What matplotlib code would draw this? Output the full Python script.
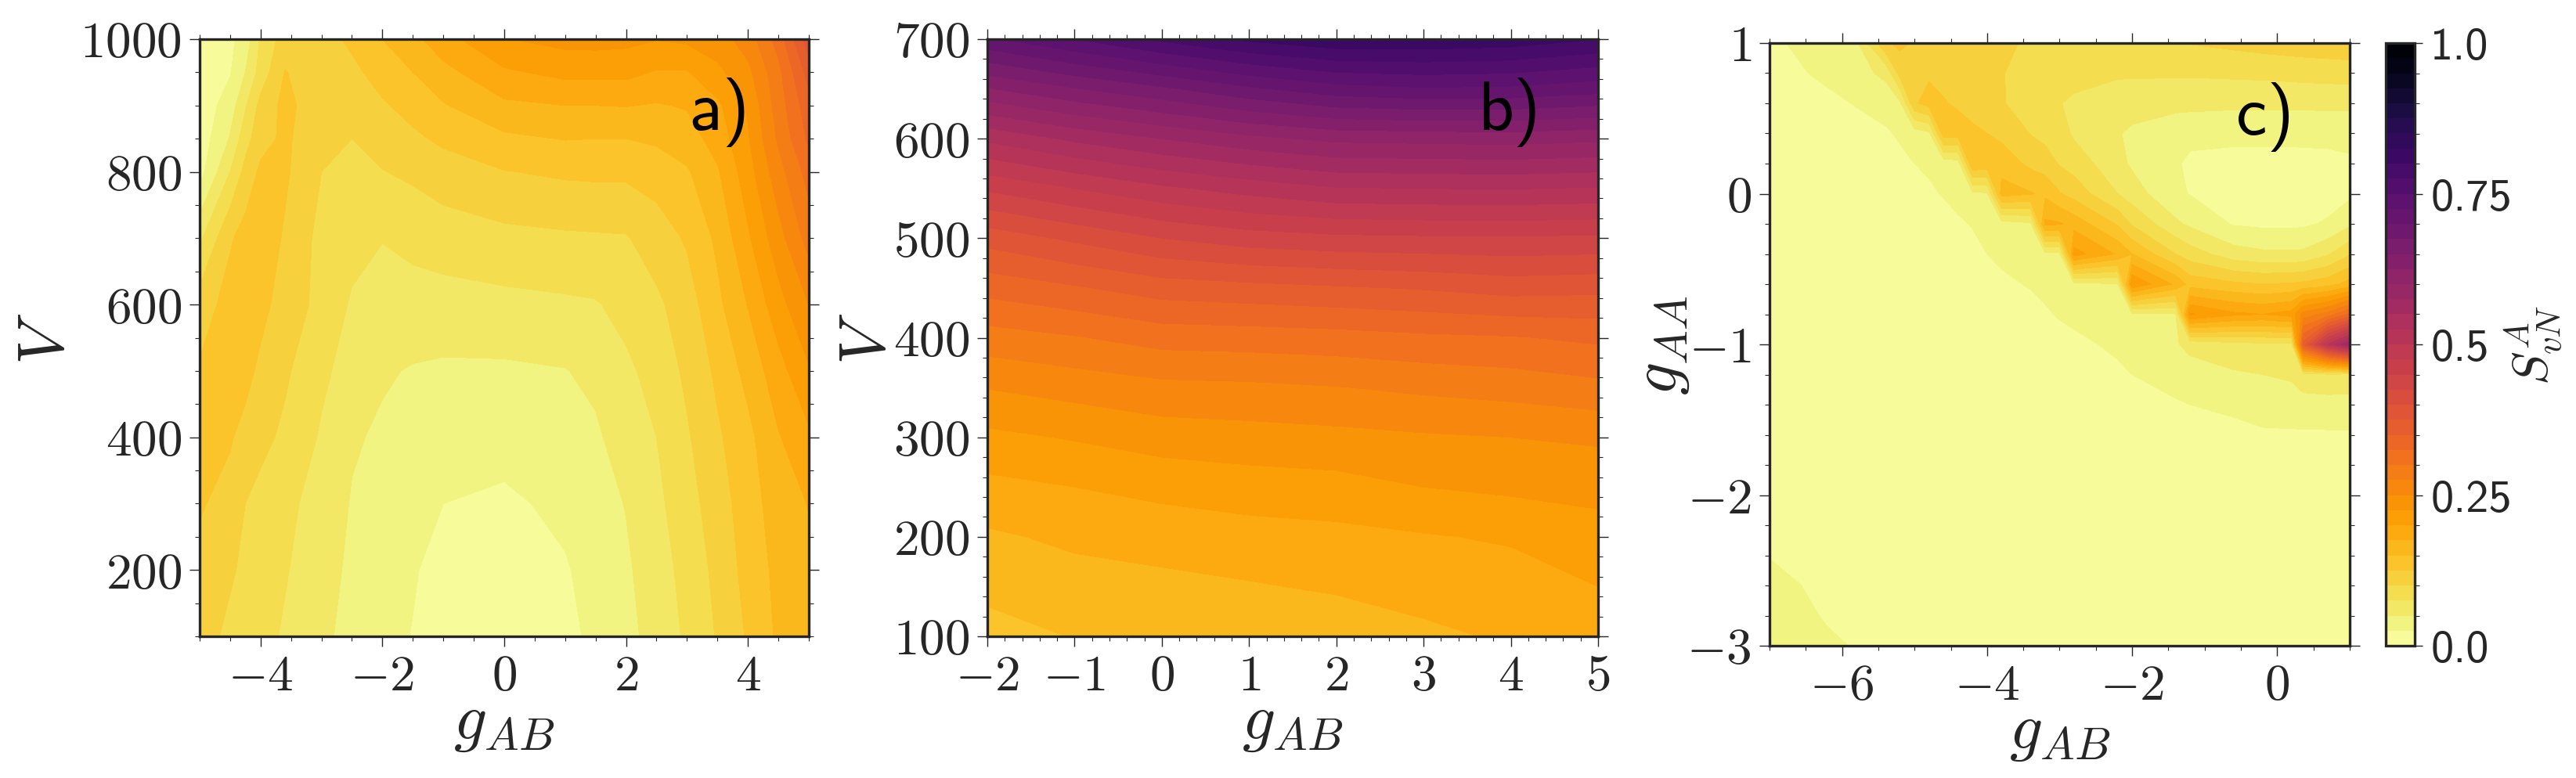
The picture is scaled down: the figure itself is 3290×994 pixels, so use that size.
"""Three contour maps of the entanglement entropy S_vN^A with a shared colorbar."""
import matplotlib

matplotlib.use("Agg")
import matplotlib.pyplot as plt
import numpy as np
from matplotlib.ticker import AutoMinorLocator, MultipleLocator

plt.rcParams["font.family"] = "cmr10"
plt.rcParams["mathtext.fontset"] = "cm"
plt.rcParams["axes.formatter.use_mathtext"] = True

INK = "#262626"
W, H = 3291, 995

# Panel a): g_AB against V
a_g = [-5, -4.5, -4.25, -4, -3.6, -3, -2.5, -2, -1.5, -1, 0, 1, 1.5, 2, 2.5, 3, 3.5, 4, 4.5, 5]
a_v = [1000, 950, 900, 850, 800, 700, 600, 500, 400, 300, 200, 100]
a_z = [
    [.008, .02, .035, .078, .112, .115, .13, .15, .168, .19, .224, .233, .234, .232, .226, .23, .238, .262, .31, .39],
    [.008, .023, .05, .085, .126, .113, .119, .135, .15, .167, .196, .207, .207, .207, .198, .198, .219, .243, .293, .36],
    [.009, .037, .072, .108, .132, .11, .11, .122, .134, .148, .17, .175, .175, .176, .173, .177, .195, .228, .287, .34],
    [.01, .052, .09, .116, .13, .105, .1, .11, .12, .13, .145, .151, .15, .15, .154, .164, .185, .222, .279, .33],
    [.015, .075, .108, .13, .129, .1, .095, .099, .105, .113, .124, .129, .13, .13, .136, .147, .172, .214, .265, .31],
    [.07, .122, .135, .14, .122, .092, .083, .076, .081, .087, .093, .096, .097, .098, .112, .128, .155, .196, .24, .285],
    [.112, .135, .138, .132, .115, .092, .072, .063, .066, .065, .068, .071, .073, .083, .095, .113, .144, .176, .215, .25],
    [.128, .137, .132, .12, .104, .08, .065, .053, .048, .046, .046, .049, .056, .07, .084, .105, .13, .158, .19, .222],
    [.135, .127, .118, .107, .095, .072, .053, .046, .04, .034, .033, .038, .046, .062, .075, .097, .121, .143, .173, .195],
    [.127, .118, .1, .092, .08, .067, .048, .04, .031, .025, .021, .03, .04, .051, .069, .09, .113, .138, .163, .176],
    [.119, .104, .094, .087, .077, .06, .045, .036, .027, .017, .014, .023, .033, .046, .064, .083, .107, .134, .157, .17],
    [.113, .093, .088, .083, .072, .054, .044, .033, .024, .014, .012, .019, .03, .043, .059, .079, .102, .128, .154, .165],
]

# Panel b): g_AB against V at a different scale
b_g = [-2, -1, 0, 1, 2, 3, 4, 5]
b_v = [100, 150, 200, 250, 300, 350, 400, 450, 500, 550, 600, 650, 700]
b_z = [
    [.141, .151, .155, .158, .16, .17, .178, .185],
    [.156, .165, .168, .173, .178, .184, .188, .2],
    [.171, .18, .186, .19, .193, .198, .203, .215],
    [.193, .2, .207, .213, .216, .225, .23, .233],
    [.219, .227, .237, .24, .243, .247, .25, .254],
    [.251, .26, .268, .27, .274, .28, .285, .293],
    [.289, .298, .31, .312, .315, .32, .323, .33],
    [.334, .347, .362, .367, .372, .377, .385, .382],
    [.385, .405, .425, .438, .444, .446, .447, .445],
    [.454, .475, .495, .51, .523, .525, .526, .523],
    [.53, .555, .575, .593, .606, .608, .61, .605],
    [.623, .648, .67, .695, .715, .722, .72, .71],
    [.72, .75, .78, .805, .82, .82, .815, .8],
]

# Panel c): g_AB against g_AA
c_g = [-7, -6.6, -6.2, -5.8, -5.4, -5.2, -5, -4.8, -4.6, -4.4, -4.2, -4, -3.8, -3.4,
       -3.2, -3, -2.8, -2.2, -2, -1.4, -1.2, -.6, -.2, .2, .36, .7, 1]
c_aa = [1, .8, .6, .4, .2, 0, -.2, -.4, -.6, -.8, -1, -1.2, -1.4, -1.6, -2, -2.4, -2.6, -2.8, -3]
c_z = [
    [.018, .03, .04, .046, .122, .13, .122, .118, .115, .112, .109, .107, .104, .097, .094, .091, .09, .09, .09, .098, .101, .106, .11, .113, .114, .116, .118],
    [.012, .021, .033, .042, .055, .11, .113, .121, .117, .114, .11, .108, .101, .092, .09, .087, .085, .078, .078, .078, .078, .08, .081, .083, .084, .085, .086],
    [.006, .009, .016, .027, .037, .045, .122, .135, .127, .121, .115, .108, .102, .088, .084, .076, .07, .063, .062, .058, .057, .055, .055, .055, .055, .056, .056],
    [.004, .005, .007, .012, .021, .029, .037, .045, .14, .138, .13, .125, .118, .099, .092, .086, .071, .052, .045, .033, .032, .032, .032, .032, .032, .032, .031],
    [.003, .003, .004, .006, .011, .018, .025, .03, .034, .038, .148, .142, .14, .119, .112, .098, .089, .058, .046, .028, .02, .016, .016, .016, .017, .018, .022],
    [.002, .002, .003, .004, .006, .01, .014, .02, .027, .036, .044, .047, .16, .152, .145, .127, .115, .075, .062, .029, .024, .013, .011, .011, .012, .014, .02],
    [.002, .002, .002, .002, .003, .004, .006, .009, .013, .02, .027, .032, .038, .046, .18, .178, .165, .122, .097, .055, .045, .023, .02, .02, .021, .028, .045],
    [.002, .002, .002, .002, .002, .003, .004, .005, .007, .01, .015, .025, .03, .036, .041, .044, .21, .172, .15, .1, .087, .061, .055, .054, .055, .072, .097],
    [.001, .001, .001, .001, .001, .002, .002, .003, .004, .006, .009, .013, .02, .027, .031, .036, .043, .048, .222, .17, .14, .13, .125, .128, .131, .14, .16],
    [.001, .001, .001, .001, .001, .001, .002, .002, .003, .004, .005, .007, .01, .016, .022, .027, .03, .04, .045, .048, .228, .205, .2, .21, .26, .285, .33],
    [.001, .001, .001, .001, .001, .001, .001, .002, .002, .003, .003, .005, .007, .01, .013, .016, .02, .029, .032, .048, .056, .066, .069, .07, .36, .5, .58],
    [.001, .001, .001, .001, .001, .001, .001, .001, .002, .002, .002, .003, .005, .008, .01, .012, .015, .021, .025, .036, .04, .047, .05, .054, .068, .07, .068],
    [.001, .001, .001, .001, .001, .001, .001, .001, .001, .001, .002, .002, .003, .005, .006, .007, .009, .014, .016, .022, .025, .03, .034, .037, .038, .04, .04],
    [.001, .001, .001, .001, .001, .001, .001, .001, .001, .001, .001, .001, .002, .003, .003, .004, .005, .008, .009, .013, .015, .018, .022, .022, .022, .022, .022],
    [.003, .002, .002, .002, .002, .001, .001, .001, .001, .001, .001, .001, .001, .001, .001, .001, .002, .002, .002, .003, .003, .004, .005, .005, .005, .005, .005],
    [.024, .014, .008, .005, .004, .003, .002, .002, .001, .001, .001, .001, .001, .001, .001, .001, .001, .001, .001, .001, .001, .002, .002, .002, .002, .002, .002],
    [.033, .026, .015, .008, .005, .004, .003, .002, .002, .001, .001, .001, .001, .001, .001, .001, .001, .001, .001, .001, .001, .001, .001, .001, .001, .001, .001],
    [.036, .032, .022, .012, .007, .005, .004, .003, .002, .002, .001, .001, .001, .001, .001, .001, .001, .001, .001, .001, .001, .001, .001, .001, .001, .001, .001],
    [.038, .034, .03, .023, .015, .01, .007, .005, .003, .002, .002, .001, .001, .001, .001, .001, .001, .001, .001, .001, .001, .001, .001, .001, .001, .001, .001],
]

a_xticks = [-4, -2, 0, 2, 4]
a_yticks = [200, 400, 600, 800, 1000]
b_xticks = [-2, -1, 0, 1, 2, 3, 4, 5]
b_yticks = [100, 200, 300, 400, 500, 600, 700]
c_xticks = [-6, -4, -2, 0]
c_yticks = [-3, -2, -1, 0, 1]
bar_ticks = [0.0, 0.25, 0.5, 0.75, 1.0]
bar_labels = ["0.0", "0.25", "0.5", "0.75", "1.0"]

LEVELS = np.linspace(0, 1, 41)


def box(left, top, right, bottom):
    """Axes rectangle from pixel edges of the final image."""
    return [left / W, 1 - bottom / H, (right - left) / W, (bottom - top) / H]


def style_ticks(ax):
    ax.tick_params(which="both", direction="out", top=True, right=True, color=INK, labelcolor=INK)
    ax.tick_params(which="major", length=9.5, width=1.0, labelsize=47, pad=7)
    ax.tick_params(which="minor", length=4, width=0.8)
    for spine in ax.spines.values():
        spine.set_linewidth(2.4)
        spine.set_color(INK)


def draw_panel(rect, x, y, z, xticks, yticks, ylabel, tag, label_x):
    ax = fig.add_axes(box(*rect))
    # no explicit vmin/vmax: the layers span the whole colormap
    cs = ax.contourf(x, y, np.array(z), levels=LEVELS, cmap="inferno_r")
    ax.set_xticks(xticks, [f"${t}$" for t in xticks])
    ax.set_yticks(yticks, [f"${t}$" for t in yticks])
    ax.xaxis.set_minor_locator(AutoMinorLocator())
    ax.yaxis.set_minor_locator(AutoMinorLocator())
    style_ticks(ax)
    ax.set_xlabel(r"$g_{AB}$", fontsize=60, color=INK, labelpad=-4)
    ax.set_ylabel(ylabel, fontsize=60, color=INK)
    ax.yaxis.set_label_coords(label_x, 0.5)
    ax.text(0.804, 0.849, tag, transform=ax.transAxes, fontsize=64, family="cmss10",
            color="black", va="baseline", ha="left", fontweight="bold")
    return cs


fig = plt.figure(figsize=(W / 100, H / 100), dpi=100)

draw_panel((255, 51, 1033, 814), a_g, a_v, a_z, a_xticks, a_yticks, r"$V$", "a)", -0.203)
draw_panel((1261, 51, 2041, 814), b_g, b_v, b_z, b_xticks, b_yticks, r"$V$", "b)", -0.148)
cs = draw_panel((2260, 56, 3001, 826), c_g, c_aa, c_z, c_xticks, c_yticks, r"$g_{AA}$", "c)", -0.135)

cax = fig.add_axes(box(3047, 56, 3084, 826))
cbar = fig.colorbar(cs, cax=cax)
cbar.set_ticks(bar_ticks, labels=bar_labels)
cax.yaxis.set_minor_locator(MultipleLocator(0.05))
cax.tick_params(which="major", direction="out", length=7.5, width=1.0, labelsize=42, pad=7,
                color=INK, labelcolor=INK)
cax.tick_params(which="minor", direction="out", length=4, width=0.8, color=INK)
for tick in cax.get_yticklabels():
    tick.set_family("cmss10")
cbar.outline.set_linewidth(2.4)
cbar.outline.set_edgecolor(INK)
cbar.set_label(r"$S_{vN}^{A}$", fontsize=46, color=INK, rotation=90, va="center", ha="center")
cax.yaxis.set_label_coords(5.1, 0.5)

fig.savefig("out.png", dpi=100)
